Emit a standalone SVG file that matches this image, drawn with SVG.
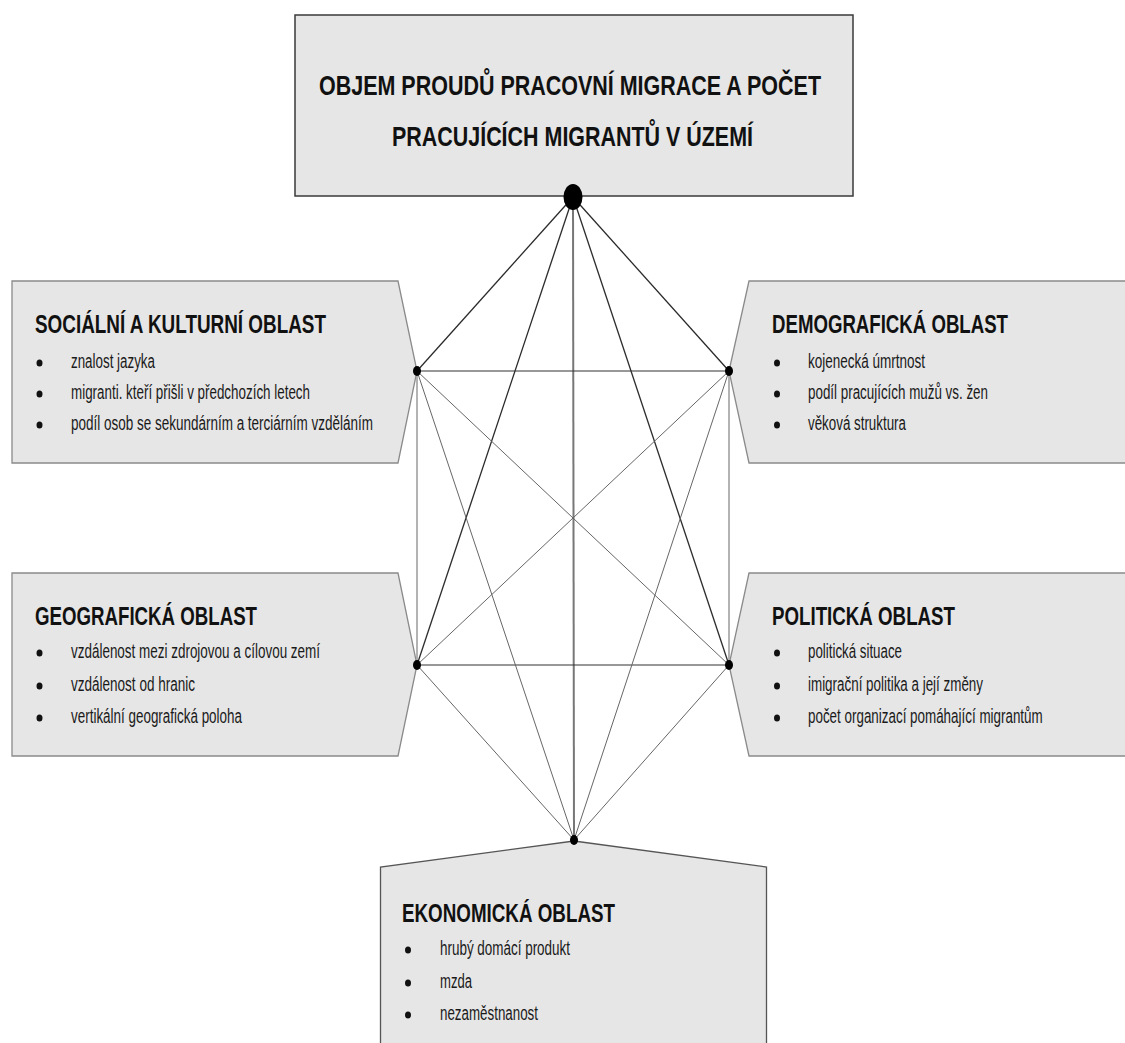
<svg xmlns="http://www.w3.org/2000/svg" width="1125" height="1043" viewBox="0 0 1125 1043">
<style>
.box{fill:#e6e6e6;stroke:#8a8a8a;stroke-width:1.3}
.topbox{fill:#e6e6e6;stroke:#3a3a3a;stroke-width:1.5}
.t{font-family:"Liberation Sans",Arial,sans-serif;font-weight:bold;fill:#111}
.h{font-family:"Liberation Sans",Arial,sans-serif;font-weight:bold;font-size:26px;fill:#111}
.i{font-family:"Liberation Sans",Arial,sans-serif;font-size:19.5px;fill:#1a1a1a}
.b{fill:#111}
.e1{stroke:#2a2a2a;stroke-width:1.3;fill:none}
.e2{stroke:#333;stroke-width:1.1;fill:none}
.e3{stroke:#a0a0a0;stroke-width:1.6;fill:none}
.e4{stroke:#666;stroke-width:1;fill:none}
.e5{stroke:#777;stroke-width:2;fill:none}
.dot{fill:#000}
</style>
<rect width="1125" height="1043" fill="#fff"/>

<g id="node-top">
<rect class="topbox" x="295" y="15" width="558" height="181"/>
<text class="t" x="319" y="95" font-size="28.5" textLength="502" lengthAdjust="spacingAndGlyphs">OBJEM PROUDŮ PRACOVNÍ MIGRACE A POČET</text>
<text class="t" x="392" y="146" font-size="28.5" textLength="361" lengthAdjust="spacingAndGlyphs">PRACUJÍCÍCH MIGRANTŮ V ÚZEMÍ</text>
</g>

<g id="node-social">
<path class="box" d="M12,281 H398 L417,371 L398,463 H12 Z"/>
<text class="h" x="35" y="333" textLength="291" lengthAdjust="spacingAndGlyphs">SOCIÁLNÍ A KULTURNÍ OBLAST</text>
<ellipse class="b" cx="39.5" cy="363" rx="3" ry="3.6"/>
<ellipse class="b" cx="39.5" cy="394" rx="3" ry="3.6"/>
<ellipse class="b" cx="39.5" cy="425" rx="3" ry="3.6"/>
<text class="i" x="71" y="368" textLength="84" lengthAdjust="spacingAndGlyphs">znalost jazyka</text>
<text class="i" x="71" y="399" textLength="239" lengthAdjust="spacingAndGlyphs">migranti. kteří přišli v předchozích letech</text>
<text class="i" x="71" y="430" textLength="302" lengthAdjust="spacingAndGlyphs">podíl osob se sekundárním a terciárním vzděláním</text>
</g>

<g id="node-demo">
<path class="box" d="M1130,281 H749 L729,371 L749,463 H1130"/>
<text class="h" x="772" y="333" textLength="236" lengthAdjust="spacingAndGlyphs">DEMOGRAFICKÁ OBLAST</text>
<ellipse class="b" cx="777" cy="363" rx="3" ry="3.6"/>
<ellipse class="b" cx="777" cy="394" rx="3" ry="3.6"/>
<ellipse class="b" cx="777" cy="425" rx="3" ry="3.6"/>
<text class="i" x="808" y="368" textLength="117" lengthAdjust="spacingAndGlyphs">kojenecká úmrtnost</text>
<text class="i" x="808" y="399" textLength="180" lengthAdjust="spacingAndGlyphs">podíl pracujících mužů vs. žen</text>
<text class="i" x="808" y="430" textLength="98" lengthAdjust="spacingAndGlyphs">věková struktura</text>
</g>

<g id="node-geo">
<path class="box" d="M12,573 H398 L417,665 L398,756 H12 Z"/>
<text class="h" x="35" y="625" textLength="222" lengthAdjust="spacingAndGlyphs">GEOGRAFICKÁ OBLAST</text>
<ellipse class="b" cx="39.5" cy="653" rx="3" ry="3.6"/>
<ellipse class="b" cx="39.5" cy="686" rx="3" ry="3.6"/>
<ellipse class="b" cx="39.5" cy="718" rx="3" ry="3.6"/>
<text class="i" x="71" y="658" textLength="249" lengthAdjust="spacingAndGlyphs">vzdálenost mezi zdrojovou a cílovou zemí</text>
<text class="i" x="71" y="691" textLength="124" lengthAdjust="spacingAndGlyphs">vzdálenost od hranic</text>
<text class="i" x="71" y="723" textLength="171" lengthAdjust="spacingAndGlyphs">vertikální geografická poloha</text>
</g>

<g id="node-polit">
<path class="box" d="M1130,573 H749 L729,665 L749,756 H1130"/>
<text class="h" x="772" y="625" textLength="183" lengthAdjust="spacingAndGlyphs">POLITICKÁ OBLAST</text>
<ellipse class="b" cx="777" cy="653" rx="3" ry="3.6"/>
<ellipse class="b" cx="777" cy="686" rx="3" ry="3.6"/>
<ellipse class="b" cx="777" cy="718" rx="3" ry="3.6"/>
<text class="i" x="808" y="658" textLength="94" lengthAdjust="spacingAndGlyphs">politická situace</text>
<text class="i" x="808" y="691" textLength="175" lengthAdjust="spacingAndGlyphs">imigrační politika a její změny</text>
<text class="i" transform="translate(808,723) scale(0.72,1)" x="0" y="0" textLength="326" lengthAdjust="spacingAndGlyphs">počet organizací pomáhající migrantům</text>
</g>

<g id="node-econ">
<path class="box" d="M380.5,1050 V867 L574,841 L766.5,867 V1050" style="stroke:#555"/>
<text class="h" x="402" y="922" textLength="213" lengthAdjust="spacingAndGlyphs">EKONOMICKÁ OBLAST</text>
<ellipse class="b" cx="408" cy="950" rx="3" ry="3.6"/>
<ellipse class="b" cx="408" cy="983" rx="3" ry="3.6"/>
<ellipse class="b" cx="408" cy="1015" rx="3" ry="3.6"/>
<text class="i" x="440" y="955" textLength="130" lengthAdjust="spacingAndGlyphs">hrubý domácí produkt</text>
<text class="i" x="440" y="988" textLength="32" lengthAdjust="spacingAndGlyphs">mzda</text>
<text class="i" x="440" y="1020" textLength="98" lengthAdjust="spacingAndGlyphs">nezaměstnanost</text>
</g>

<g id="connectors">
<line class="e1" x1="573" y1="197" x2="417" y2="371"/>
<line class="e1" x1="573" y1="197" x2="729" y2="371"/>
<line class="e1" x1="573" y1="197" x2="417" y2="665"/>
<line class="e1" x1="573" y1="197" x2="729" y2="665"/>
<line class="e5" x1="573" y1="197" x2="574" y2="840"/>
<line class="e2" x1="417" y1="371" x2="729" y2="371"/>
<line class="e2" x1="417" y1="665" x2="729" y2="665"/>
<line class="e3" x1="417" y1="371" x2="417" y2="665"/>
<line class="e3" x1="729" y1="371" x2="729" y2="665"/>
<line class="e4" x1="417" y1="371" x2="729" y2="665"/>
<line class="e4" x1="729" y1="371" x2="417" y2="665"/>
<line class="e4" x1="417" y1="371" x2="574" y2="840"/>
<line class="e4" x1="729" y1="371" x2="574" y2="840"/>
<line class="e4" x1="417" y1="665" x2="574" y2="840"/>
<line class="e4" x1="729" y1="665" x2="574" y2="840"/>
</g>

<g id="junctions">
<ellipse class="dot" cx="573" cy="197" rx="9.5" ry="13"/>
<ellipse class="dot" cx="417" cy="371" rx="4" ry="5"/>
<ellipse class="dot" cx="729" cy="371" rx="4" ry="5"/>
<ellipse class="dot" cx="417" cy="665" rx="4" ry="5"/>
<ellipse class="dot" cx="729" cy="665" rx="4" ry="5"/>
<ellipse class="dot" cx="574" cy="840" rx="4" ry="5"/>
</g>
</svg>
